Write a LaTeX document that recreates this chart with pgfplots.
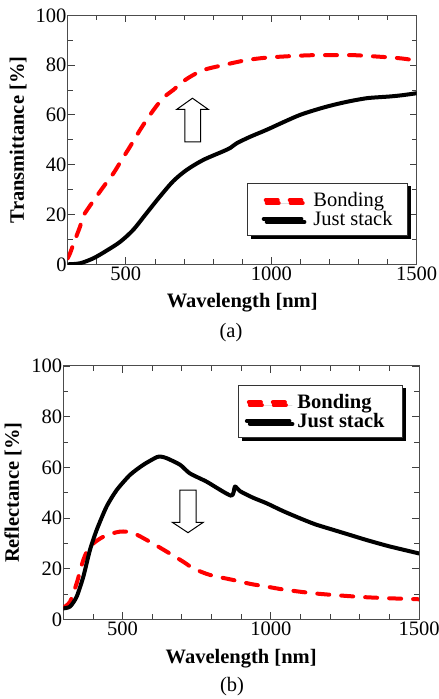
\documentclass[border=0pt]{standalone}
\usepackage{pgfplots}
\pgfplotsset{compat=1.18}
\usepackage{fontspec}
\setmainfont{Liberation Serif}
\usetikzlibrary{shadows}
\begin{document}
\begin{tikzpicture}
\useasboundingbox (0pt,0pt) rectangle (439pt,699pt);
\pgfplotsset{
  myax/.style={
    scale only axis,
    xmin=300, xmax=1500, ymin=0, ymax=100,
    xtick={500,1000,1500}, ytick={0,20,40,60,80,100},
    minor xtick={400,600,700,800,900,1100,1200,1300,1400},
    minor ytick={10,30,50,70,90},
    tick align=inside,
    major tick length=7pt, minor tick length=5pt,
    every tick/.style={black!75, line width=0.8pt},
    axis line style={black!70, line width=1pt},
    /pgf/number format/assume math mode=true,
    /pgf/number format/1000 sep={},
    tick label style={font=\fontsize{20.5}{24}\selectfont},
    yticklabel style={inner sep=1pt},
    xticklabel style={inner sep=2pt},
    label style={font=\fontsize{20.5}{24}\selectfont\bfseries},
    legend cell align=left,
  },
  bond/.style={red, line width=4pt, line cap=round, dash pattern=on 12pt off 12pt},
  stack/.style={black, line width=4pt, line cap=round, line join=round},
}
\begin{axis}[myax,
  at={(67.7pt,434.7pt)}, anchor=south west, width=349pt, height=249pt,
  xlabel={Wavelength [nm]}, ylabel={Transmittance [\%]},
  xlabel style={at={(axis description cs:0.5,-0.155)}, anchor=center},
  ylabel style={at={(axis description cs:-0.142,0.5)}, anchor=center},
  legend image code/.code={\draw[#1, dash phase=-2pt] (0pt,0pt) -- (37.7pt,0pt);},
  legend style={at={(axis description cs:0.975,0.3265)}, anchor=north east,
    font=\fontsize{20.5}{22}\selectfont, draw=black!80, line width=0.8pt,
    drop shadow={shadow xshift=3pt, shadow yshift=-3pt, fill=black, opacity=1},
    fill=white, inner xsep=14pt, inner ysep=8pt, row sep=1pt,
    nodes={inner sep=1pt}, column sep=9pt},
]
\addplot[bond, smooth, tension=0.5] coordinates {
(300,2.4)(308,4.4)(325,9.8)(342,15)(353,19.2)(370,22.4)(388,25.4)(422,31)(457,36.5)(486,42)(514,47.2)(549,54)(583,60)(617,65.3)(640,68)(663,70)(690,72.8)(721,75.3)(766,78)(835,80)(915,82)(984,83)(1050,83.5)(1100,83.8)(1150,84)(1213,84)(1280,84)(1328,83.7)(1380,83.3)(1419,83)(1460,82.5)(1500,81.8)};
\addlegendentry{Bonding}
\addplot[stack, smooth, tension=0.5] coordinates {
(300,0)(342,0.4)(388,2.4)(434,5.5)(480,9)(525,13.8)(571,20.5)(617,27.2)(663,33.4)(709,37.9)(766,41.9)(835,45.4)(860,46.8)(881,48.6)(927,51.2)(984,54)(1040,57)(1099,60)(1160,62.3)(1213,64)(1270,65.5)(1328,66.7)(1370,67.1)(1408,67.4)(1450,67.9)(1500,68.7)};
\addlegendentry{Just stack}
\draw[black, line width=1pt, fill=white]
 (axis cs:703.3,49.2) -- (axis cs:757.3,49.2) -- (axis cs:757.3,62.2) -- (axis cs:783.4,62.2) -- (axis cs:729,66.7) -- (axis cs:674.8,62.2) -- (axis cs:703.3,62.2) -- cycle;
\end{axis}
\node[font=\fontsize{20.5}{24}\selectfont] at (231pt,366pt) {(a)};
\begin{axis}[myax,
  at={(63.3pt,79.7pt)}, anchor=south west, width=355.7pt, height=253.3pt,
  xlabel={Wavelength [nm]}, ylabel={Reflectance [\%]},
  xlabel style={at={(axis description cs:0.5,-0.157)}, anchor=center},
  ylabel style={at={(axis description cs:-0.141,0.5)}, anchor=center},
  legend image code/.code={\draw[#1, dash phase=-2pt] (0pt,0pt) -- (42.6pt,0pt);},
  legend style={at={(axis description cs:0.955,0.925)}, anchor=north east,
    font=\fontsize{20.5}{22}\selectfont\bfseries, draw=black!80, line width=0.8pt,
    drop shadow={shadow xshift=3pt, shadow yshift=-3pt, fill=black, opacity=1},
    fill=white, inner xsep=6pt, inner ysep=8pt, row sep=1pt,
    nodes={inner sep=1pt}, column sep=5pt},
]
\addplot[bond, smooth, tension=0.5] coordinates {
(300,4.7)(322.6,6.9)(345,14.2)(367.5,23.4)(390,28.7)(435,32.6)(491,34.6)(536,34)(592,30.6)(649,26.7)(705,22.7)(739,20.1)(795,17.5)(874,15.5)(930,14)(986,12.9)(1040,11.8)(1098,10.9)(1150,10.2)(1211,9.6)(1270,9.1)(1323,8.7)(1400,8.3)(1500,7.9)};
\addlegendentry{Bonding}
\addplot[stack, smooth, tension=0.4] coordinates {
(300,4.3)(322.6,5)(345,8.9)(367.5,16.8)(390,27.4)(412.7,35.3)(446,44.5)(480,51)(525,57)(570,61)(615,64)(630,64.2)(649,63.6)(694,61)(727,57.6)(784,54.3)(866,48.8)(879,52.4)(896,50.6)(940,48)(986,45.8)(1040,42.8)(1098,39.9)(1150,37.5)(1211,35.3)(1270,33.2)(1323,31.3)(1400,28.8)(1500,26)};
\addlegendentry{Just stack\hspace*{11pt}}
\draw[black, line width=1pt, fill=white]
 (axis cs:693.7,51) -- (axis cs:747.7,51) -- (axis cs:747.7,38.3) -- (axis cs:772.3,38.3) -- (axis cs:720.7,34.2) -- (axis cs:667.7,38.3) -- (axis cs:693.7,38.3) -- cycle;
\end{axis}
\node[font=\fontsize{20.5}{24}\selectfont] at (232pt,12pt) {(b)};
\end{tikzpicture}
\end{document}
